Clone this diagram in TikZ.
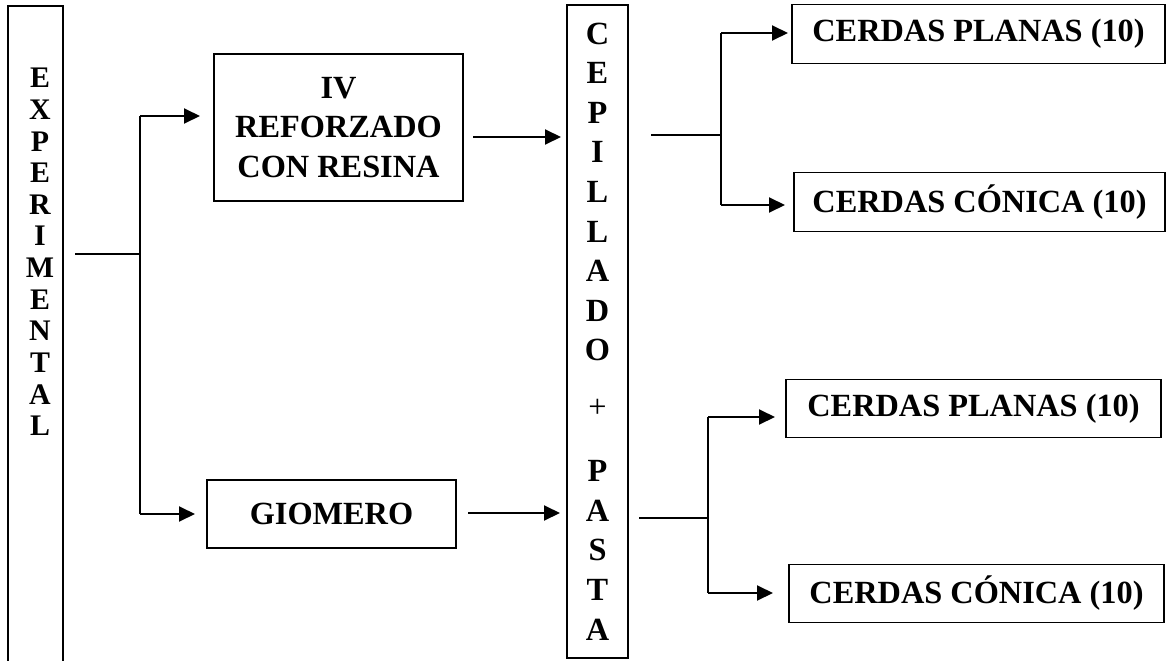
\documentclass[tikz,border=0pt]{standalone}
\usepackage{fontspec}
\setmainfont{Liberation Serif}
\usetikzlibrary{arrows.meta}
\pgfdeclarelayer{edgelayer}
\pgfdeclarelayer{nodelayer}
\pgfsetlayers{edgelayer,nodelayer,main}
\tikzset{font=\bfseries\fontsize{18.4}{22.5}\selectfont}
\tikzstyle{none}=[inner sep=0pt]
\tikzstyle{box}=[draw,line width=0.7pt,inner sep=0pt,align=center]
\tikzstyle{cerdas}=[box,minimum width=7.46cm,minimum height=1.17cm]
\tikzstyle{link}=[line width=1.1pt]
\tikzstyle{linkto}=[link,-{Triangle[length=0.32cm,width=0.3cm]}]

\begin{document}
\begin{tikzpicture}
	\useasboundingbox (0,0) rectangle (23.32,-13.22);
	\begin{pgfonlayer}{nodelayer}
		\node [style=box, minimum width=1.1cm, minimum height=13.48cm] (0) at (0.71, -6.86) {};
		\node [style=none, align=center, font=\bfseries\fontsize{17}{18}\selectfont] (1) at (0.8, -5.04) {E\\X\\P\\E\\R\\I\\M\\E\\N\\T\\A\\L};
		\node [style=box, minimum width=4.98cm, minimum height=2.94cm] (2) at (6.77, -2.55) {IV\\REFORZADO\\CON RESINA};
		\node [style=box, minimum width=4.98cm, minimum height=1.36cm] (3) at (6.63, -10.28) {GIOMERO};
		\node [style=box, minimum width=1.22cm, minimum height=13.06cm] (4) at (11.95, -6.63) {C\\E\\P\\I\\L\\L\\A\\D\\O\\[10pt]{\mdseries +}\\[14pt]P\\A\\S\\T\\A};
		\node [style=cerdas] (5) at (19.57, -0.68) {CERDAS PLANAS (10)};
		\node [style=cerdas, minimum width=7.42cm] (6) at (19.59, -4.04) {CERDAS CÓNICA (10)};
		\node [style=cerdas, minimum width=7.5cm] (7) at (19.47, -8.17) {CERDAS PLANAS (10)};
		\node [style=cerdas, minimum width=7.5cm] (8) at (19.53, -11.87) {CERDAS CÓNICA (10)};
		\node [style=none] (9) at (1.5, -5.08) {};
		\node [style=none] (10) at (2.8, -5.08) {};
		\node [style=none] (11) at (2.8, -2.32) {};
		\node [style=none] (12) at (4.0, -2.32) {};
		\node [style=none] (13) at (2.8, -10.28) {};
		\node [style=none] (14) at (3.9, -10.28) {};
		\node [style=none] (15) at (9.46, -2.74) {};
		\node [style=none] (16) at (11.22, -2.74) {};
		\node [style=none] (17) at (9.36, -10.26) {};
		\node [style=none] (18) at (11.2, -10.26) {};
		\node [style=none] (19) at (13.02, -2.7) {};
		\node [style=none] (20) at (14.42, -2.7) {};
		\node [style=none] (21) at (14.42, -0.66) {};
		\node [style=none] (22) at (15.76, -0.66) {};
		\node [style=none] (23) at (14.42, -4.1) {};
		\node [style=none] (24) at (15.7, -4.1) {};
		\node [style=none] (25) at (12.78, -10.36) {};
		\node [style=none] (26) at (14.16, -10.36) {};
		\node [style=none] (27) at (14.16, -8.34) {};
		\node [style=none] (28) at (15.5, -8.34) {};
		\node [style=none] (29) at (14.16, -11.86) {};
		\node [style=none] (30) at (15.46, -11.86) {};
	\end{pgfonlayer}
	\begin{pgfonlayer}{edgelayer}
		\draw [style=link] (9.center) to (10.center);
		\draw [style=link] (11.center) to (13.center);
		\draw [style=linkto] (11.center) to (12.center);
		\draw [style=linkto] (13.center) to (14.center);
		\draw [style=linkto] (15.center) to (16.center);
		\draw [style=linkto] (17.center) to (18.center);
		\draw [style=link] (19.center) to (20.center);
		\draw [style=link] (21.center) to (23.center);
		\draw [style=linkto] (21.center) to (22.center);
		\draw [style=linkto] (23.center) to (24.center);
		\draw [style=link, line width=1.6pt] (25.center) to (26.center);
		\draw [style=link] (27.center) to (29.center);
		\draw [style=linkto] (27.center) to (28.center);
		\draw [style=linkto] (29.center) to (30.center);
	\end{pgfonlayer}
\end{tikzpicture}
\end{document}
